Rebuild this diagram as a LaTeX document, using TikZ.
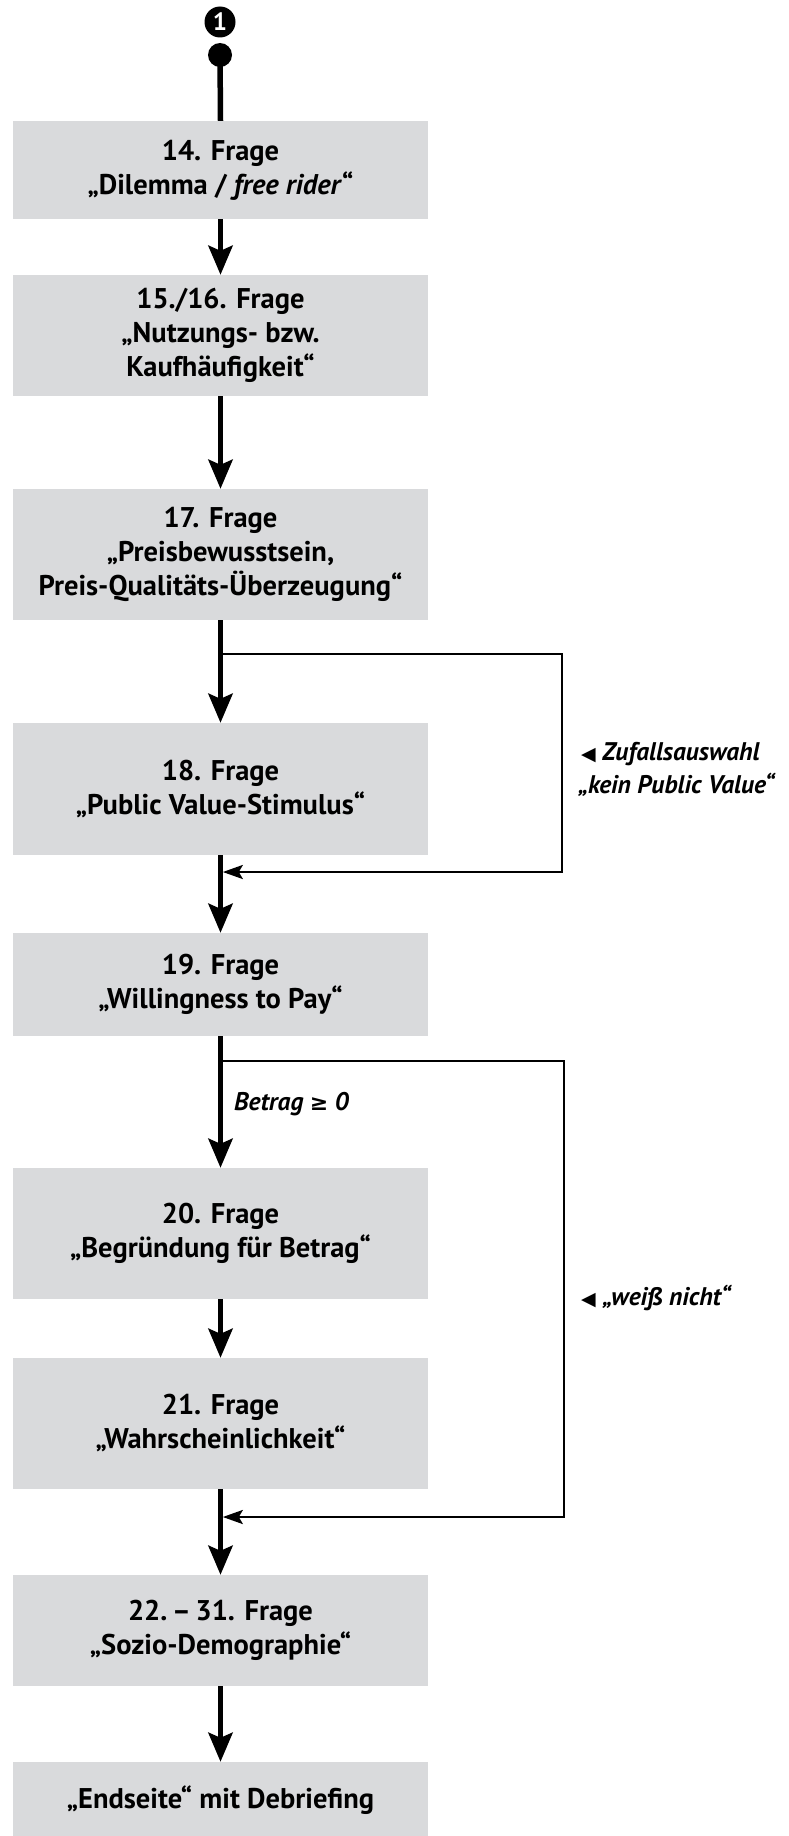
\documentclass[tikz,border=0pt]{standalone}
\usepackage{fontspec}
\setmainfont{PT Sans}
\newfontfamily\symfont{DejaVu Sans}
\usetikzlibrary{arrows.meta}
\definecolor{boxgray}{RGB}{217,218,220}
\begin{document}
\begin{tikzpicture}[x=1pt,y=-1pt,
  qbox/.style={fill=boxgray, draw=none, minimum width=415pt, align=center,
    font=\fontsize{28.5}{34}\selectfont\bfseries, inner sep=0pt},
  flow/.style={line width=5.5pt, -{Stealth[length=29pt,width=24pt,inset=5pt]}},
  back/.style={line width=2.6pt, -{Stealth[length=20pt,width=14pt,inset=4pt]}},
  note/.style={font=\fontsize{25.5}{32}\selectfont\bfseries\itshape, anchor=base west, inner sep=0pt}]
\useasboundingbox (0,0) rectangle (789,1836);
\begin{scope}
\clip (0,0) rectangle (789,1836);

% start marker
\node[circle, fill=black, minimum size=31pt, inner sep=0pt, text=white,
      font=\fontsize{25}{25}\selectfont\bfseries] (one) at (220,22) {1};
\node[circle, fill=black, minimum size=24pt, inner sep=0pt] (dot) at (220,55) {};

% question boxes
\node[qbox, minimum height=98pt]  (b1) at (220.5,170)   {14. Frage\\„Dilemma / \textit{free rider}“};
\node[qbox, minimum height=121pt] (b2) at (220.5,335.5) {15./16. Frage\\„Nutzungs- bzw.\\Kaufhäufigkeit“};
\node[qbox, minimum height=131pt] (b3) at (220.5,554.5) {17. Frage\\„Preisbewusstsein,\\Preis-Qualitäts-Überzeugung“};
\node[qbox, minimum height=132pt] (b4) at (220.5,789)   {18. Frage\\„Public Value-Stimulus“};
\node[qbox, minimum height=103pt] (b5) at (220.5,984.5) {19. Frage\\„Willingness to Pay“};
\node[qbox, minimum height=131pt] (b6) at (220.5,1233.5){20. Frage\\„Begründung für Betrag“};
\node[qbox, minimum height=131pt] (b7) at (220.5,1423.5){21. Frage\\„Wahrscheinlichkeit“};
\node[qbox, minimum height=111pt] (b8) at (220.5,1630.5){22.\,–\,31. Frage\\„Sozio-Demographie“};
\node[qbox, minimum height=76pt]  (b9) at (220.5,1800)  {„Endseite“ mit Debriefing};

% main flow
\draw[line width=5.5pt] (dot.center) -- (b1.north);
\draw[flow] (b1.south) -- (b2.north);
\draw[flow] (b2.south) -- (b3.north);
\draw[flow] (b3.south) -- (b4.north);
\draw[flow] (b4.south) -- (b5.north);
\draw[flow] (b5.south) -- (b6.north);
\draw[flow] (b6.south) -- (b7.north);
\draw[flow] (b7.south) -- (b8.north);
\draw[flow] (b8.south) -- (b9.north);

% bypass: random assignment without stimulus
\coordinate (s1) at (220,654);
\coordinate (r1a) at (562,654);
\coordinate (r1b) at (562,872);
\coordinate (m1) at (222.8,872);
\draw[back] (s1) -- (r1a) -- (r1b) -- (m1);
\node[note] (z1) at (581,760) {{\symfont\fontsize{19}{19}\selectfont◀} Zufallsauswahl};
\node[note] (z2) at (578,793) {„kein Public Value“};

% bypass: "don't know"
\coordinate (s2) at (220,1061);
\coordinate (r2a) at (564,1061);
\coordinate (r2b) at (564,1517);
\coordinate (m2) at (222.8,1517);
\draw[back] (s2) -- (r2a) -- (r2b) -- (m2);
\node[note] (w1) at (581,1305) {{\symfont\fontsize{19}{19}\selectfont◀} „weiß nicht“};

% branch condition
\node[note] (bt) at (234,1110) {Betrag {\symfont\upshape\fontsize{22}{22}\selectfont ≥} 0};
\end{scope}
\end{tikzpicture}
\end{document}
